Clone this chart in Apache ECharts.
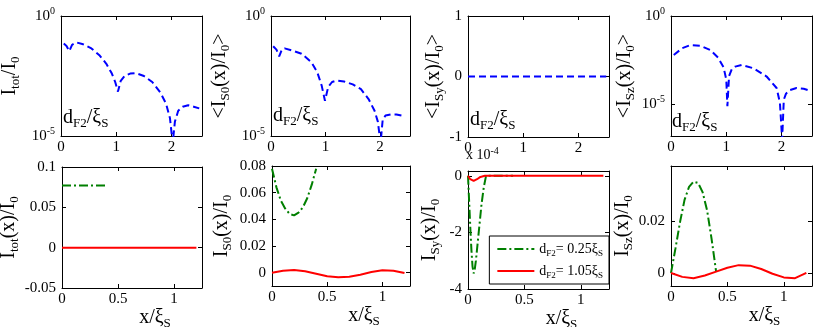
<!DOCTYPE html>
<html>
<head>
<meta charset="utf-8">
<script src="https://cdn.jsdelivr.net/npm/echarts@6/dist/echarts.min.js"></script>
<style>html,body{margin:0;background:#fff}#main{width:817px;height:327px}</style>
</head>
<body>
<div id="main"></div>
<script>
var myChart = echarts.init(document.getElementById('main'));
var fontsty = 'Liberation Serif';

// top row, x = d_F2/xi_S, y = log10 of the averaged current
var totD = [0.05, 0.1, 0.15, 0.2, 0.28, 0.4, 0.55, 0.7, 0.82, 0.92, 0.98, 1.03, 1.08, 1.15, 1.25, 1.35, 1.5, 1.65, 1.8, 1.9, 1.97, 2.02, 2.06, 2.12, 2.2, 2.3, 2.4, 2.5];
var totLog = [-1.15, -1.25, -1.46, -1.2, -1.1, -1.18, -1.35, -1.65, -1.99, -2.4, -2.75, -3.15, -2.7, -2.5, -2.4, -2.38, -2.5, -2.75, -3.2, -3.65, -4.25, -5.3, -4.4, -3.95, -3.78, -3.72, -3.78, -3.85];
var s0D = [0.04, 0.1, 0.15, 0.2, 0.25, 0.38, 0.56, 0.74, 0.85, 0.93, 0.99, 1.05, 1.12, 1.2, 1.34, 1.5, 1.65, 1.79, 1.9, 1.96, 2.01, 2.05, 2.1, 2.2, 2.3, 2.42];
var s0Log = [-1.26, -1.4, -1.68, -1.4, -1.35, -1.43, -1.57, -1.92, -2.35, -2.9, -3.53, -2.95, -2.75, -2.69, -2.73, -2.85, -3.05, -3.46, -3.95, -4.4, -5.3, -4.3, -4.15, -4.1, -4.1, -4.16];
var syD = [0, 2.5];
var syAvg = [0, 0];
var szD = [0.05, 0.2, 0.35, 0.53, 0.71, 0.85, 0.95, 1.0, 1.02, 1.05, 1.1, 1.16, 1.28, 1.49, 1.73, 1.91, 1.97, 2.01, 2.04, 2.08, 2.15, 2.27, 2.4, 2.51];
var szLog = [-2.21, -1.83, -1.65, -1.69, -1.93, -2.35, -2.9, -3.6, -5.11, -3.4, -3.0, -2.87, -2.77, -2.96, -3.43, -4.08, -4.92, -7, -4.74, -4.4, -4.2, -4.08, -4.12, -4.23];

// bottom row, x = x/xi_S
var totXg = [0, 0.4];
var totG = [0.077, 0.077];
var totXr = [0, 1.2];
var totR = [0, 0];
var xg = [0, 0.04, 0.08, 0.12, 0.16, 0.2, 0.24, 0.28, 0.32, 0.36, 0.4];
var xr = [0, 0.1, 0.2, 0.3, 0.4, 0.5, 0.6, 0.7, 0.8, 0.9, 1.0, 1.1, 1.2];
var s0G = [0.078, 0.064, 0.054, 0.048, 0.044, 0.043, 0.045, 0.049, 0.056, 0.066, 0.078];
var s0R = [0, 0.0015, 0.002, 0.001, -0.0008, -0.0027, -0.0035, -0.003, -0.0015, 0.0005, 0.0018, 0.0015, -0.0003];
// I_Sy in units of 1e-4
var syXg = [0, 0.01, 0.02, 0.03, 0.04, 0.05, 0.06, 0.07, 0.08, 0.09, 0.1, 0.12, 0.14, 0.16, 0.2, 0.3, 0.4];
var syG = [0, -0.9, -1.8, -2.6, -3.2, -3.45, -3.3, -3.0, -2.6, -2.2, -1.8, -1.0, -0.4, 0, 0, 0, 0];
var syXr = [0, 0.02, 0.05, 0.08, 0.11, 0.15, 0.5, 1.2];
var syR = [0, -0.12, -0.18, -0.12, -0.04, 0, 0, 0];
var szG = [0, 0.0095, 0.0195, 0.028, 0.033, 0.035, 0.0345, 0.031, 0.024, 0.013, 0.0005];
var szR = [0, -0.0015, -0.002, -0.001, 0.0005, 0.002, 0.003, 0.0028, 0.0015, -0.0003, -0.0017, -0.002, 0];

var nameG = 'dF2 = 0.25';
var nameR = 'dF2 = 1.05';

function zip(xs, ys) {
  return xs.map(function (x, i) { return [x, ys[i]]; });
}

var blue = {color: '#0000ff', width: 2, type: [7, 4]};
var green = {color: '#007f00', width: 2, type: [9, 3, 2, 3]};
var red = {color: '#ff0000', width: 2, type: 'solid'};

var xName = '{m|x/ξ}{s|S}';
var panels = [
  {box: [61, 16, 141, 120], x: [0, 2.55], xt: [0, 1, 2], y: [-5, 0], yt: [-5, 0], log: true,
    yName: '{m|I}{s|tot}{m|/I}{s|0}', gap: 39, series: [{data: zip(totD, totLog), style: blue}]},
  {box: [271, 16, 139, 120], x: [0, 2.55], xt: [0, 1, 2], y: [-5, 0], yt: [-5, 0], log: true,
    yName: '{m|<I}{s|S0}{m|(x)/I}{s|0}{m|>}', gap: 39, series: [{data: zip(s0D, s0Log), style: blue}]},
  {box: [468, 16, 141, 121], x: [0, 2.55], xt: [0, 1, 2], y: [-1, 1], yt: [-1, 0, 1],
    yName: '{m|<I}{s|Sy}{m|(x)/I}{s|0}{m|>}', gap: 20, series: [{data: zip(syD, syAvg), style: blue}]},
  {box: [671, 16, 141, 120], x: [0, 2.55], xt: [0, 1, 2], y: [-6.8, 0], yt: [-5, 0], log: true,
    yName: '{m|<I}{s|Sz}{m|(x)/I}{s|0}{m|>}', gap: 34, series: [{data: zip(szD, szLog), style: blue}]},
  {box: [62, 167, 140, 121], x: [0, 1.25], xt: [0, 0.5, 1], y: [-0.05, 0.1], yt: [-0.05, 0, 0.05, 0.1],
    yName: '{m|I}{s|tot}{m|(x)/I}{s|0}', gap: 34, xName: xName,
    series: [{data: zip(totXg, totG), style: green, name: nameG}, {data: zip(totXr, totR), style: red, name: nameR}]},
  {box: [272, 166, 138, 120], x: [0, 1.25], xt: [0, 0.5, 1], y: [-0.01, 0.08], yt: [0, 0.02, 0.04, 0.06, 0.08],
    yName: '{m|I}{s|S0}{m|(x)/I}{s|0}', gap: 38, xName: xName,
    series: [{data: zip(xg, s0G), style: green, name: nameG}, {data: zip(xr, s0R), style: red, name: nameR}]},
  {box: [468, 171, 141, 118], x: [0, 1.25], xt: [0, 0.5, 1], y: [-4, 0.17], yt: [-4, -2, 0],
    yName: '{m|I}{s|Sy}{m|(x)/I}{s|0}', gap: 26, xName: xName,
    series: [{data: zip(syXg, syG), style: green, name: nameG}, {data: zip(syXr, syR), style: red, name: nameR}]},
  {box: [671, 166, 141, 120], x: [0, 1.25], xt: [0, 0.5, 1], y: [-0.005, 0.041], yt: [0, 0.02],
    yName: '{m|I}{s|Sz}{m|(x)/I}{s|0}', gap: 33, xName: xName,
    series: [{data: zip(xg, szG), style: green, name: nameG}, {data: zip(xr, szR), style: red, name: nameR}]}
];

var nameRich = {
  m: {fontFamily: fontsty, fontSize: 20, lineHeight: 24, color: '#000'},
  s: {fontFamily: fontsty, fontSize: 13, lineHeight: 12, verticalAlign: 'bottom', color: '#000'}
};
var labRich = {
  b: {fontFamily: fontsty, fontSize: 15, lineHeight: 20, color: '#000'},
  p: {fontFamily: fontsty, fontSize: 10, lineHeight: 10, verticalAlign: 'top', color: '#000'}
};
var lineBlack = {show: true, onZero: false, lineStyle: {color: '#000', width: 1}};

var grids = [], xAxes = [], yAxes = [], series = [];
panels.forEach(function (p, i) {
  grids.push({left: p.box[0], top: p.box[1], width: p.box[2], height: p.box[3], containLabel: false, outerBoundsMode: 'none'});
  [false, true].forEach(function (mirror) {
    xAxes.push({
      type: 'value', gridIndex: i, min: p.x[0], max: p.x[1], position: mirror ? 'top' : 'bottom',
      axisLine: lineBlack,
      axisTick: {inside: true, length: 4, customValues: p.xt, lineStyle: {color: '#000'}},
      axisLabel: {show: !mirror, customValues: p.xt, color: '#000', fontFamily: fontsty, fontSize: 15, margin: 4,
        formatter: function (v) { return String(v); }},
      splitLine: {show: false},
      name: mirror ? '' : (p.xName || ''), nameLocation: 'middle', nameGap: 7,
      nameTextStyle: {rich: nameRich, padding: [0, 0, 0, 46]}
    });
    yAxes.push({
      type: 'value', gridIndex: i, min: p.y[0], max: p.y[1], position: mirror ? 'right' : 'left',
      axisLine: lineBlack,
      axisTick: {inside: true, length: 4, customValues: p.yt, lineStyle: {color: '#000'}},
      axisLabel: {show: !mirror, customValues: p.yt, color: '#000', fontFamily: fontsty, fontSize: 15, margin: 6,
        rich: labRich,
        formatter: function (v) { return p.log ? '{b|10}{p|' + v + '}' : String(v); }},
      splitLine: {show: false},
      name: mirror ? '' : p.yName, nameLocation: 'middle', nameGap: p.gap, nameRotate: 90,
      nameTextStyle: {rich: nameRich}
    });
  });
  p.series.forEach(function (s) {
    series.push({
      type: 'line', name: s.name, xAxisIndex: 2 * i, yAxisIndex: 2 * i, data: s.data,
      symbol: 'none', lineStyle: s.style, itemStyle: {color: s.style.color},
      clip: true, silent: true
    });
  });
});

var dText = '{m|d}{s|F2}{m|/ξ}{s|S}';
var graphics = [[63, 108], [273, 106], [470, 110], [672, 112]].map(function (pos) {
  return {type: 'text', left: pos[0], top: pos[1], silent: true,
    style: {text: dText, rich: nameRich, fill: '#000'}};
});
graphics.push({type: 'text', left: 466, top: 146, silent: true,
  style: {text: '{m|x 10}{p|-4}', fill: '#000',
    rich: {m: {fontFamily: fontsty, fontSize: 14, lineHeight: 18, color: '#000'},
      p: {fontFamily: fontsty, fontSize: 10, lineHeight: 9, verticalAlign: 'top', color: '#000'}}}});

var option = {
  backgroundColor: '#fff',
  animation: false,
  grid: grids,
  xAxis: xAxes,
  yAxis: yAxes,
  series: series,
  graphic: graphics,
  legend: {
    data: [nameG, nameR],
    orient: 'vertical', right: 208, top: 236,
    padding: [6, 6, 4, 7], itemGap: 6, itemWidth: 37, itemHeight: 14,
    borderColor: '#000', borderWidth: 1, borderRadius: 0, backgroundColor: '#fff',
    selectedMode: false,
    itemStyle: {opacity: 0},
    formatter: function (n) {
      return n === nameG ? '{m|d}{s|F2}{m|= 0.25ξ}{s|S}' : '{m|d}{s|F2}{m|= 1.05ξ}{s|S}';
    },
    textStyle: {
      rich: {
        m: {fontFamily: fontsty, fontSize: 14, lineHeight: 18, color: '#000'},
        s: {fontFamily: fontsty, fontSize: 9, lineHeight: 9, verticalAlign: 'bottom', color: '#000'}
      }
    }
  }
};
myChart.setOption(option);
</script>
</body>
</html>
